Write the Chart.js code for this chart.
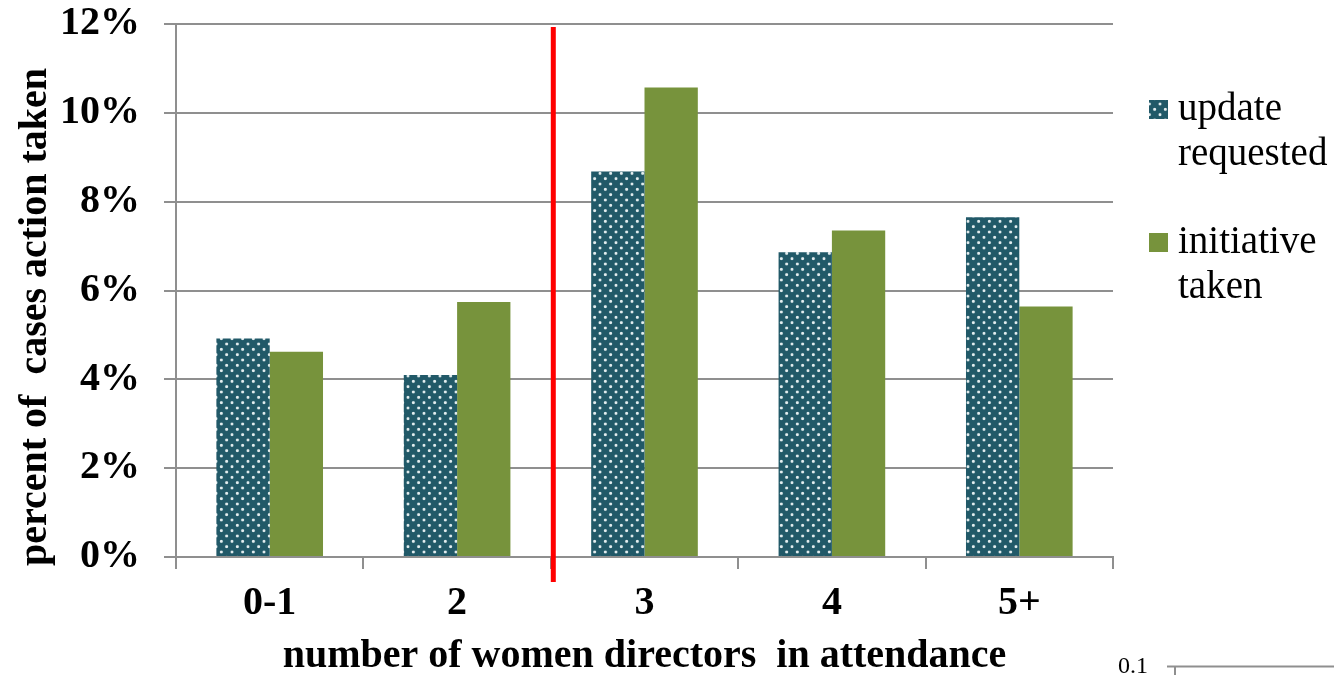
<!DOCTYPE html>
<html>
<head>
<meta charset="utf-8">
<script src="https://cdn.jsdelivr.net/npm/chart.js@4.4.1/dist/chart.umd.min.js"></script>
<style>
  html, body { margin: 0; padding: 0; background: #fff; }
  #wrap { width: 1334px; height: 675px; position: relative; }
</style>
</head>
<body>
<div id="wrap"><canvas id="c"></canvas></div>
<script>
// Share of cases (%) in which the board acted, by number of women directors present
const categories = ['0-1', '2', '3', '4', '5+'];
const updateRequested = [4.92, 4.10, 8.68, 6.86, 7.65];
const initiativeTaken = [4.62, 5.74, 10.57, 7.35, 5.64];
const seriesNames = [['update', 'requested'], ['initiative', 'taken']];
const yTicks = { min: 0, max: 12, step: 2 };
const yTitle = 'percent of  cases action taken';
const xTitle = 'number of women directors  in attendance';
const dividerAfter = '2';          // red rule drawn after this category
const cornerTickLabel = '0.1';     // stray axis fragment in the lower right corner

const SERIF = "'Liberation Serif', 'Times New Roman', serif";
const GRID = '#8f8f8f';
const TEAL = '#215968';
const OLIVE = '#77933c';

const canvas = document.getElementById('c');
const ctx0 = canvas.getContext('2d');

// dotted fill for the "update requested" bars
const dotPattern = (() => {
  const tile = document.createElement('canvas');
  tile.width = 16; tile.height = 16;
  const g = tile.getContext('2d');
  g.fillStyle = TEAL;
  g.fillRect(0, 0, 16, 16);
  g.fillStyle = 'rgba(238,245,247,0.95)';
  [[4, 4], [12, 12]].forEach(([x, y]) => {
    g.beginPath(); g.arc(x, y, 2.3, 0, Math.PI * 2); g.fill();
  });
  const p = ctx0.createPattern(tile, 'repeat');
  p.setTransform(new DOMMatrix([2 / 3, 0, 0, 2 / 3, 0, 0]));
  return p;
})();

const fills = [dotPattern, OLIVE];

const decorations = {
  id: 'decorations',
  afterDraw(chart) {
    const { ctx, chartArea, scales } = chart;
    const x = scales.x;

    // red divider between two categories
    const i = categories.indexOf(dividerAfter);
    const xd = (x.getPixelForValue(i) + x.getPixelForValue(i + 1)) / 2 + 2.5;
    ctx.save();
    ctx.strokeStyle = '#ff0000';
    ctx.lineWidth = 5;
    ctx.beginPath();
    ctx.moveTo(xd, chartArea.top + 3);
    ctx.lineTo(xd, chartArea.bottom + 25);
    ctx.stroke();
    ctx.restore();

    // axis titles
    ctx.save();
    ctx.fillStyle = '#000';
    ctx.font = `bold 40px ${SERIF}`;
    ctx.textAlign = 'center';
    ctx.textBaseline = 'alphabetic';
    ctx.fillText(xTitle, (chartArea.left + chartArea.right) / 2, 667);
    ctx.translate(46, 317);
    ctx.rotate(-Math.PI / 2);
    ctx.fillText(yTitle, 0, 0);
    ctx.restore();

    // legend
    ctx.save();
    ctx.font = `39px ${SERIF}`;
    ctx.textAlign = 'left';
    ctx.textBaseline = 'alphabetic';
    const baselines = [120, 253];
    seriesNames.forEach((lines, k) => {
      const b = baselines[k];
      ctx.fillStyle = fills[k];
      ctx.fillRect(1149, b - 20, 19, 19);
      ctx.fillStyle = '#000';
      lines.forEach((t, j) => ctx.fillText(t, 1178, b + j * 45));
    });
    ctx.restore();

    // corner axis fragment
    ctx.save();
    ctx.strokeStyle = GRID;
    ctx.lineWidth = 2;
    ctx.beginPath();
    ctx.moveTo(1167, 666.5); ctx.lineTo(1334, 666.5);
    ctx.moveTo(1175, 666.5); ctx.lineTo(1175, 675);
    ctx.stroke();
    ctx.fillStyle = '#000';
    ctx.font = `24px ${SERIF}`;
    ctx.textAlign = 'left';
    ctx.textBaseline = 'alphabetic';
    ctx.fillText(cornerTickLabel, 1118, 673);
    ctx.restore();
  }
};

Chart.defaults.color = '#000';

new Chart(canvas, {
  type: 'bar',
  data: {
    labels: categories,
    datasets: [
      { label: seriesNames[0].join(' '), data: updateRequested, backgroundColor: dotPattern,
        borderWidth: 0, categoryPercentage: 0.569, barPercentage: 1 },
      { label: seriesNames[1].join(' '), data: initiativeTaken, backgroundColor: OLIVE,
        borderWidth: 0, categoryPercentage: 0.569, barPercentage: 1 }
    ]
  },
  options: {
    responsive: true,
    maintainAspectRatio: false,
    animation: false,
    layout: { padding: { left: 0, right: 221, top: 24, bottom: 0 } },
    plugins: { legend: { display: false }, tooltip: { enabled: false } },
    scales: {
      x: {
        grid: { offset: true, drawOnChartArea: false, drawTicks: true, tickLength: 12, color: GRID, lineWidth: 2 },
        border: { display: true, color: GRID, width: 2 },
        ticks: { font: { family: SERIF, size: 40, weight: 'bold', lineHeight: 1.2 }, padding: 11, color: '#000' },
        afterFit(s) { s.height = 118; s.paddingLeft = 0; s.paddingRight = 0; }
      },
      y: {
        min: yTicks.min, max: yTicks.max,
        ticks: { stepSize: yTicks.step, callback: v => v + '%',
                 font: { family: SERIF, size: 40, weight: 'bold', lineHeight: 1.2 }, padding: 24, color: '#000' },
        grid: { color: GRID, lineWidth: 2, tickLength: 12 },
        border: { display: true, color: GRID, width: 2 },
        afterFit(s) { s.width = 176; s.paddingTop = 0; s.paddingBottom = 0; }
      }
    }
  },
  plugins: [decorations]
});
</script>
</body>
</html>
